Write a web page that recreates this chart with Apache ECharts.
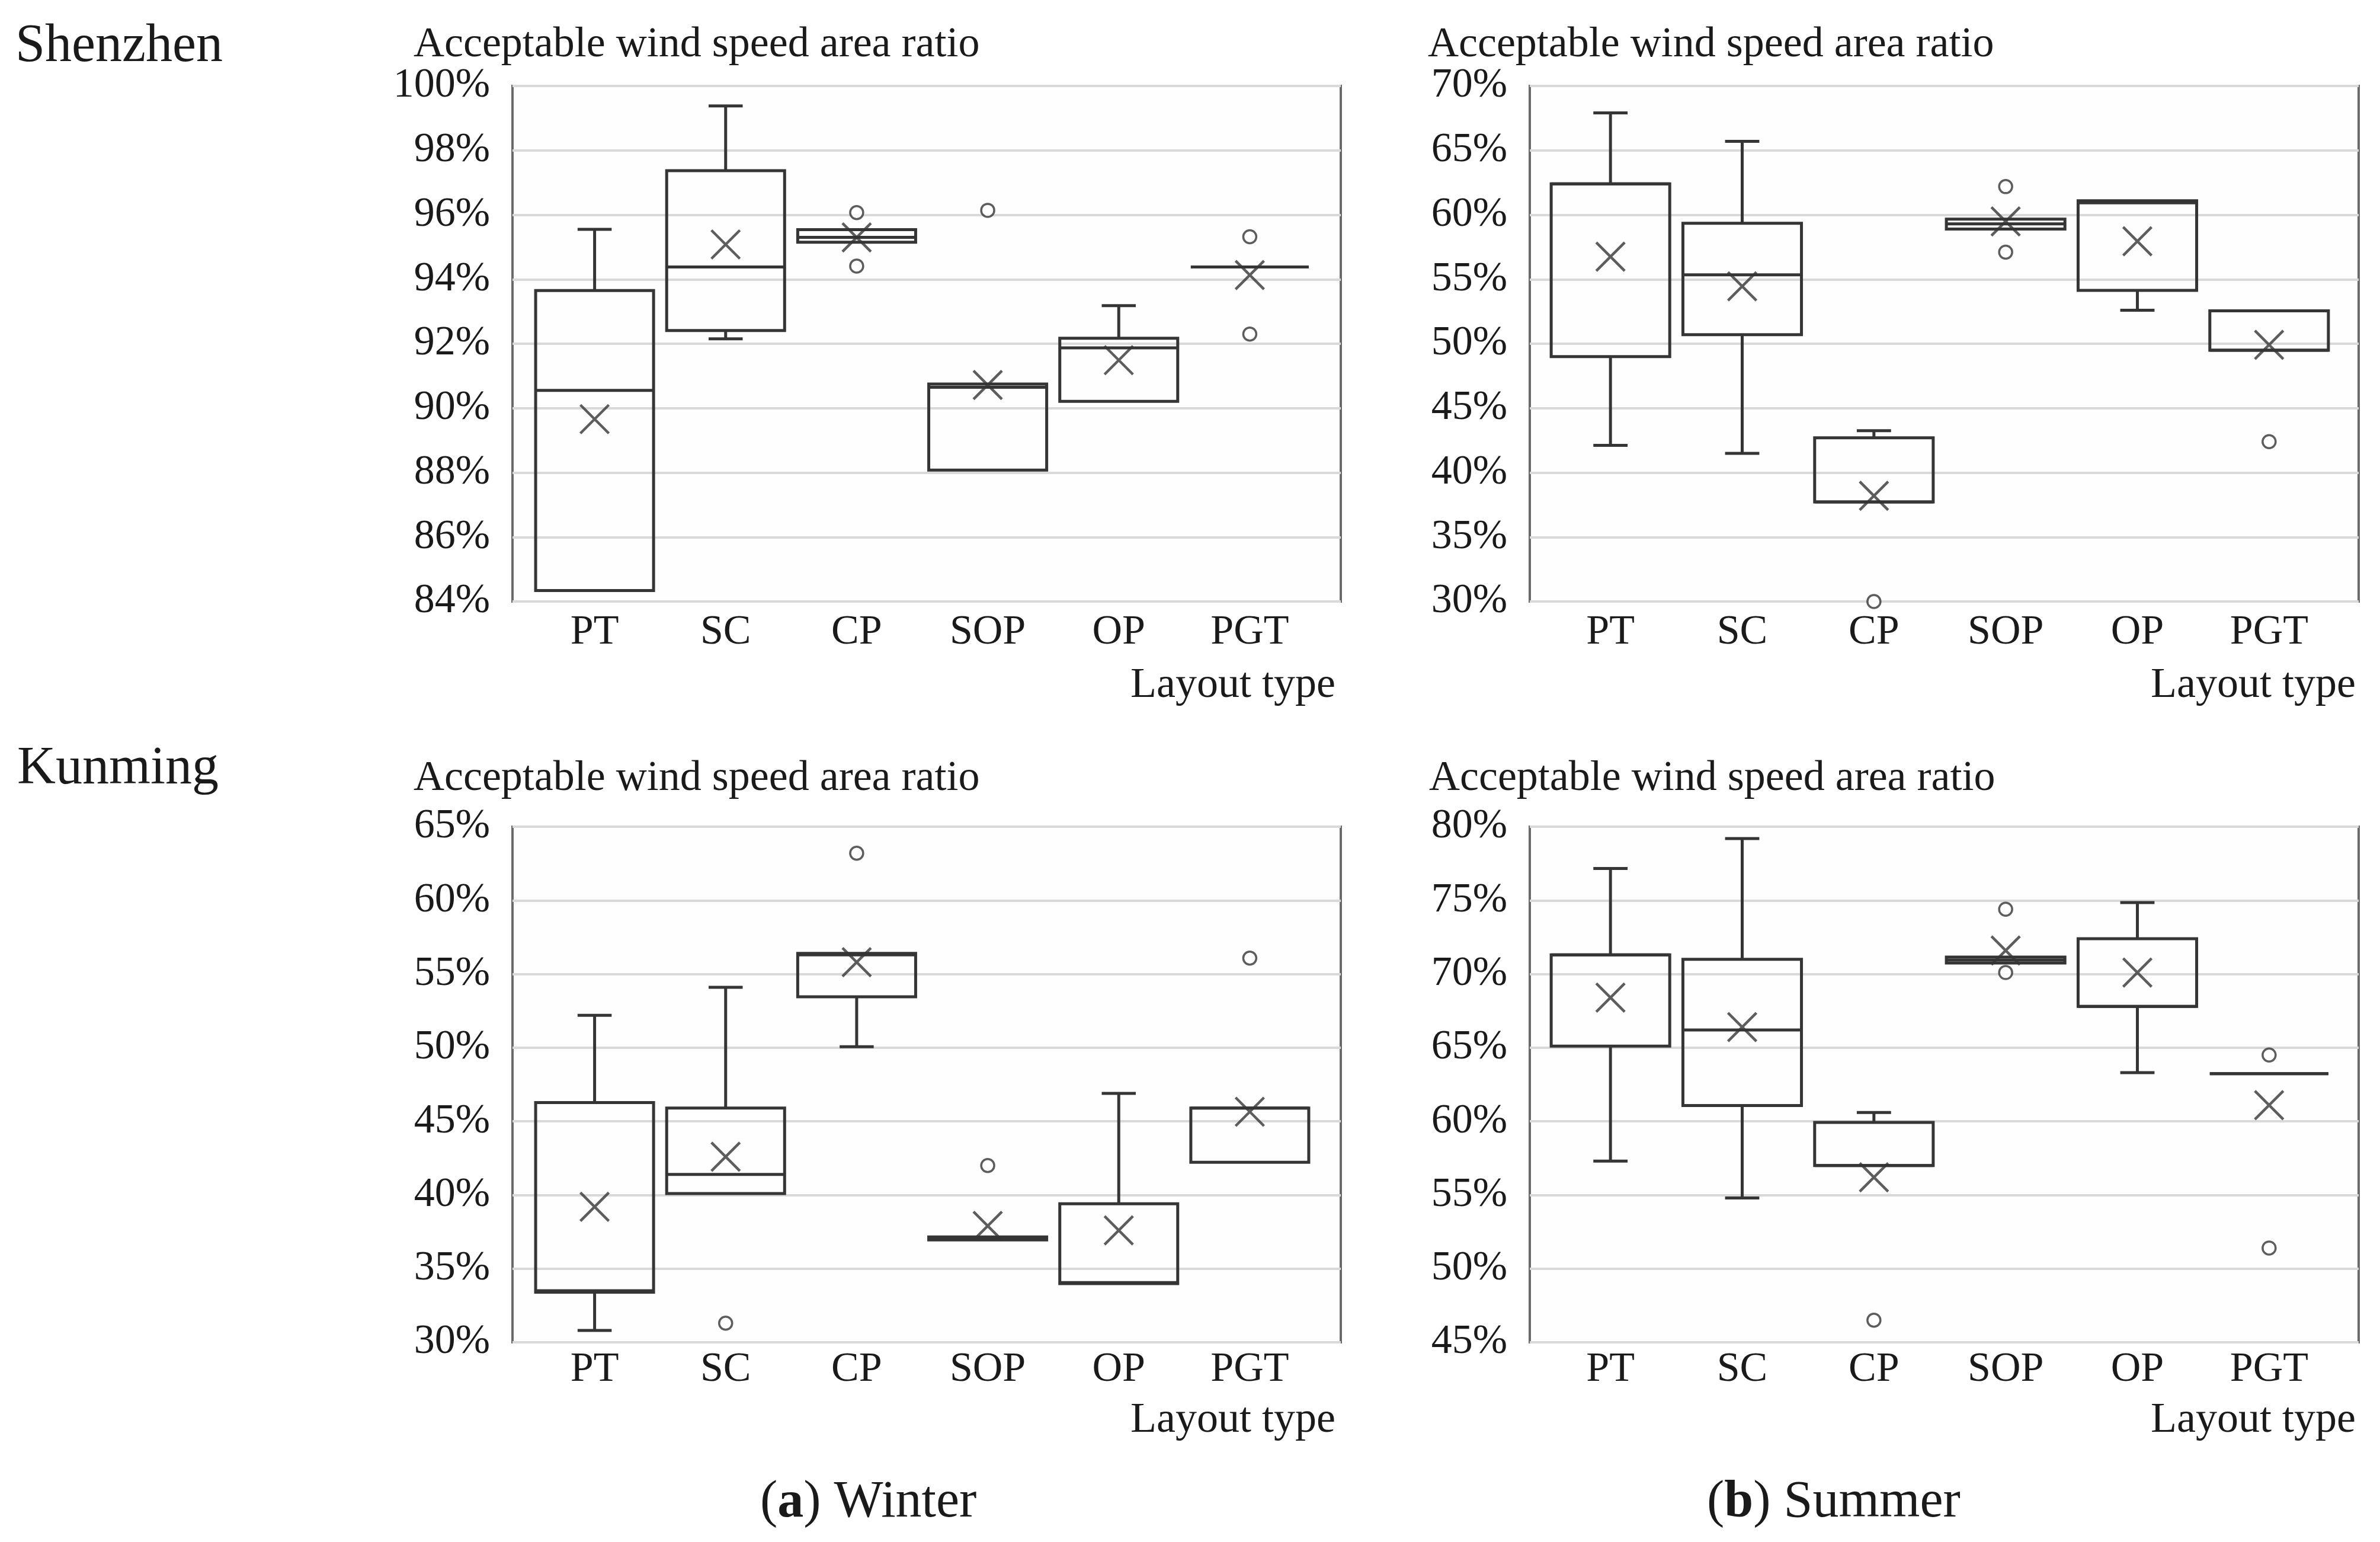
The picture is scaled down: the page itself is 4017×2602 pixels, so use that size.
<!DOCTYPE html>
<html>
<head>
<meta charset="utf-8">
<style>html,body{margin:0;padding:0;background:#fff;}#chart{width:4017px;height:2602px;}</style>
<script src="https://cdn.jsdelivr.net/npm/echarts@6/dist/echarts.min.js"></script>
</head>
<body>
<div id="chart"></div>
<script>
// ---------------- DATA ----------------
const categories = ['PT', 'SC', 'CP', 'SOP', 'OP', 'PGT'];

// [min, Q1, median, Q3, max] per category
const szWinterBox = [
  [84.34, 84.34, 90.55, 93.65, 95.55],
  [92.15, 92.41, 94.38, 97.37, 99.38],
  [95.15, 95.15, 95.30, 95.54, 95.54],
  [88.08, 88.08, 90.65, 90.75, 90.75],
  [90.21, 90.21, 91.87, 92.17, 93.18],
  [94.38, 94.38, 94.38, 94.38, 94.38]
];
const szWinterMean = [89.66, 95.08, 95.30, 90.72, 91.49, 94.13];
const szWinterOutliers = [[2, 96.07], [2, 94.41], [3, 96.14], [5, 95.32], [5, 92.30]];
const szWinterTicks = [84, 100, 2];

const szSummerBox = [
  [42.12, 49.00, 62.40, 62.40, 67.91],
  [41.50, 50.70, 55.35, 59.35, 65.70],
  [37.72, 37.72, 37.72, 42.70, 43.25],
  [58.90, 58.90, 59.30, 59.67, 59.67],
  [52.60, 54.14, 60.93, 61.09, 61.09],
  [49.50, 49.50, 49.50, 52.55, 52.55]
];
const szSummerMean = [56.75, 54.45, 38.20, 59.49, 57.95, 49.91];
const szSummerOutliers = [[2, 30.0], [3, 62.19], [3, 57.10], [5, 42.40]];
const szSummerTicks = [30, 70, 5];

const kmWinterBox = [
  [30.80, 33.40, 33.50, 46.27, 52.20],
  [40.10, 40.10, 41.40, 45.90, 54.10],
  [50.06, 53.45, 56.30, 56.40, 56.40],
  [36.95, 36.95, 37.05, 37.15, 37.15],
  [33.98, 33.98, 34.05, 39.40, 46.90],
  [42.22, 42.22, 45.90, 45.90, 45.90]
];
const kmWinterMean = [39.20, 42.60, 55.80, 37.90, 37.60, 45.65];
const kmWinterOutliers = [[1, 31.30], [2, 63.20], [3, 42.00], [5, 56.08]];
const kmWinterTicks = [30, 65, 5];

const kmSummerBox = [
  [57.30, 65.10, 71.30, 71.30, 77.16],
  [54.80, 61.07, 66.20, 71.00, 79.20],
  [57.00, 57.00, 57.00, 59.93, 60.60],
  [70.75, 70.75, 70.95, 71.15, 71.15],
  [63.30, 67.80, 67.80, 72.40, 74.85],
  [63.23, 63.23, 63.23, 63.23, 63.23]
];
const kmSummerMean = [68.40, 66.40, 56.20, 71.60, 70.10, 61.10];
const kmSummerOutliers = [[2, 46.50], [3, 74.40], [3, 70.10], [5, 64.50], [5, 51.40]];
const kmSummerTicks = [45, 80, 5];

// ---------------- LAYOUT ----------------
const W = 4017, H = 2602;
const FONT = 'Liberation Serif';
const INK = '#1a1a1a';
const LINE = '#353535';
const layout = [
  { frame: [865, 2263, 145, 1015], data: [893, 2220] },
  { frame: [2582, 3981, 145, 1015], data: [2607, 3941] },
  { frame: [865, 2263, 1395, 2265], data: [893, 2220] },
  { frame: [2582, 3981, 1395, 2265], data: [2607, 3941] }
];
const panels = [
  { box: szWinterBox, mean: szWinterMean, out: szWinterOutliers, ticks: szWinterTicks },
  { box: szSummerBox, mean: szSummerMean, out: szSummerOutliers, ticks: szSummerTicks },
  { box: kmWinterBox, mean: kmWinterMean, out: kmWinterOutliers, ticks: kmWinterTicks },
  { box: kmSummerBox, mean: kmSummerMean, out: kmSummerOutliers, ticks: kmSummerTicks }
];

const grid = [], xAxis = [], yAxis = [], series = [];

function renderBox(params, api) {
  const i = api.value(0);
  const band = api.size([1, 0])[0];
  const half = band * 0.45, capHalf = band * 0.13;
  const pMin = api.coord([i, api.value(1)]);
  const pQ1 = api.coord([i, api.value(2)]);
  const pMed = api.coord([i, api.value(3)]);
  const pQ3 = api.coord([i, api.value(4)]);
  const pMax = api.coord([i, api.value(5)]);
  const cx = pQ1[0];
  const st = { stroke: LINE, lineWidth: 5, fill: null };
  const ch = [];
  if (pMax[1] < pQ3[1] - 0.5) {
    ch.push({ type: 'line', shape: { x1: cx, y1: pQ3[1], x2: cx, y2: pMax[1] }, style: st });
    ch.push({ type: 'line', shape: { x1: cx - capHalf, y1: pMax[1], x2: cx + capHalf, y2: pMax[1] }, style: st });
  }
  if (pMin[1] > pQ1[1] + 0.5) {
    ch.push({ type: 'line', shape: { x1: cx, y1: pQ1[1], x2: cx, y2: pMin[1] }, style: st });
    ch.push({ type: 'line', shape: { x1: cx - capHalf, y1: pMin[1], x2: cx + capHalf, y2: pMin[1] }, style: st });
  }
  ch.push({ type: 'rect', shape: { x: cx - half, y: pQ3[1], width: half * 2, height: Math.max(0, pQ1[1] - pQ3[1]) }, style: { stroke: LINE, lineWidth: 5, fill: 'none' } });
  ch.push({ type: 'line', shape: { x1: cx - half, y1: pMed[1], x2: cx + half, y2: pMed[1] }, style: st });
  return { type: 'group', children: ch };
}

panels.forEach((p, k) => {
  const L = layout[k];
  const [ymin, ymax, step] = p.ticks;
  grid.push({ left: L.frame[0], right: W - L.frame[1], top: L.frame[2], bottom: H - L.frame[3],
    show: true, borderColor: '#6a6a6a', borderWidth: 4, backgroundColor: '#fefefe' });
  grid.push({ left: L.data[0], right: W - L.data[1], top: L.frame[2], bottom: H - L.frame[3] });
  const gf = 2 * k, gd = 2 * k + 1;
  xAxis.push({ gridIndex: gf, type: 'value', min: 0, max: 1, show: false });
  xAxis.push({ gridIndex: gd, type: 'category', data: categories,
    axisLine: { show: false }, axisTick: { show: false }, splitLine: { show: false },
    axisLabel: { fontFamily: FONT, fontSize: 70, color: INK, margin: k < 2 ? 18 : 12 } });
  yAxis.push({ gridIndex: gf, type: 'value', min: ymin, max: ymax, interval: step,
    axisLine: { show: false }, axisTick: { show: false },
    splitLine: { show: true, lineStyle: { color: '#d9d9d9', width: 4 } },
    axisLabel: { fontFamily: FONT, fontSize: 70, color: INK, margin: 38, formatter: '{value}%' } });
  yAxis.push({ gridIndex: gd, type: 'value', min: ymin, max: ymax, interval: step, show: false,
    splitLine: { show: false } });

  const xi = 2 * k + 1, yi = 2 * k + 1;
  series.push({
    type: 'custom', xAxisIndex: xi, yAxisIndex: yi, renderItem: renderBox,
    encode: { x: 0, y: [1, 2, 3, 4, 5] },
    data: p.box.map((b, i) => [i].concat(b)), z: 3
  });
  series.push({
    type: 'scatter', xAxisIndex: xi, yAxisIndex: yi,
    symbol: 'path://M0,0L10,10M10,0L0,10', symbolSize: 48,
    itemStyle: { color: 'rgba(0,0,0,0)', borderColor: LINE, borderWidth: 4.5 },
    data: p.mean.map((m, i) => [i, m]), z: 4, silent: true
  });
  series.push({
    type: 'scatter', xAxisIndex: xi, yAxisIndex: yi,
    symbol: 'circle', symbolSize: 22, clip: false,
    itemStyle: { color: '#ffffff', borderColor: LINE, borderWidth: 3.5 },
    data: p.out, z: 5, silent: true
  });
});

const ts = (size) => ({ fontFamily: FONT, fontSize: size, fontWeight: 'normal', color: INK, lineHeight: size });
const capStyle = Object.assign(ts(88), { rich: { b: { fontFamily: FONT, fontSize: 88, fontWeight: 'bold', color: INK, lineHeight: 88 } } });
const title = [
  { text: 'Shenzhen', left: 26, top: 34, padding: 0, textStyle: ts(90) },
  { text: 'Kunming', left: 29, top: 1253, padding: 0, textStyle: ts(90) },
  { text: 'Acceptable wind speed area ratio', left: 698, top: 40, padding: 0, textStyle: ts(72) },
  { text: 'Acceptable wind speed area ratio', left: 2410, top: 40, padding: 0, textStyle: ts(72) },
  { text: 'Acceptable wind speed area ratio', left: 698, top: 1278, padding: 0, textStyle: ts(72) },
  { text: 'Acceptable wind speed area ratio', left: 2412, top: 1278, padding: 0, textStyle: ts(72) },
  { text: 'Layout type', right: W - 2254, top: 1121, padding: 0, textStyle: ts(72) },
  { text: 'Layout type', right: W - 3976, top: 1121, padding: 0, textStyle: ts(72) },
  { text: 'Layout type', right: W - 2254, top: 2361, padding: 0, textStyle: ts(72) },
  { text: 'Layout type', right: W - 3976, top: 2361, padding: 0, textStyle: ts(72) },
  { text: '({b|a}) Winter', left: 1283, top: 2492, padding: 0, textStyle: capStyle },
  { text: '({b|b}) Summer', left: 2881, top: 2492, padding: 0, textStyle: capStyle }
];

const chart = echarts.init(document.getElementById('chart'), null, { width: W, height: H });
chart.setOption({
  animation: false,
  backgroundColor: '#ffffff',
  title: title,
  grid: grid,
  xAxis: xAxis,
  yAxis: yAxis,
  series: series
});
</script>
</body>
</html>
